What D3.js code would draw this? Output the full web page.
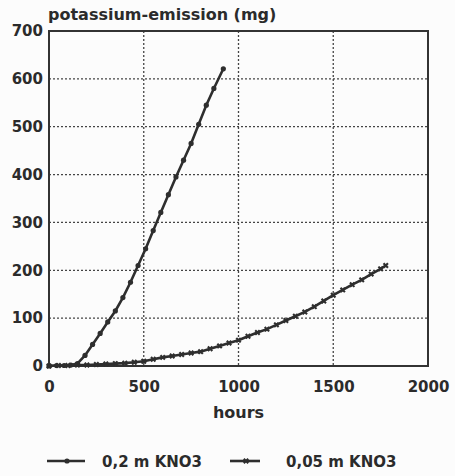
<!DOCTYPE html>
<html>
  <head>
    <meta charset="utf-8">
    <title>potassium emission</title>
    <script src="https://d3js.org/d3.v7.min.js"></script>
    <style>
      html, body { margin: 0; padding: 0; background: #fcfcfc; overflow: hidden; }
      svg { display: block; }
      text { font-family: "DejaVu Sans", sans-serif; font-weight: bold; fill: #2b2b2b; }
      .grid line { stroke: #444; stroke-width: 1.3px; stroke-dasharray: 2,2; }
      .axis path, .axis line { display: none; }
    </style>
  </head>
  <body>
    <script>

      // 0,2 m KNO3 : hours / mg
      var hours02 = [0, 40, 80, 115, 150, 190, 230, 270, 310, 350, 390, 430, 470, 510, 550, 590, 630, 670, 710, 750, 790, 830, 870, 920];
      var kalium02 = [0, 1, 1, 2, 5, 22, 45, 68, 92, 115, 143, 175, 210, 245, 283, 321, 358, 395, 430, 465, 505, 545, 580, 621];

      // 0,05 m KNO3 : hours / mg
      var hours005 = [0, 50, 100, 150, 200, 250, 300, 350, 400, 450, 500, 550, 600, 650, 700, 750, 800, 850, 900, 950,
                      1000, 1050, 1100, 1150, 1200, 1250, 1300, 1350, 1400, 1450, 1500, 1550, 1600, 1650, 1700, 1750, 1777];
      var kalium005 = [0, 1, 1, 2, 2, 3, 4, 5, 6, 8, 10, 14, 18, 21, 24, 27, 30, 36, 42, 48,
                       54, 62, 70, 77, 86, 95, 104, 113, 124, 136, 148, 159, 170, 180, 192, 203, 210];

      var xTicks = [0, 500, 1000, 1500, 2000];
      var yTicks = [0, 100, 200, 300, 400, 500, 600, 700];
      var seriesNames = ["0,2 m KNO3", "0,05 m KNO3"];

      var outerWidth = 455;
      var outerHeight = 476;
      var margin = { left: 49, top: 31, right: 27, bottom: 110 };
      var innerWidth = outerWidth - margin.left - margin.right;
      var innerHeight = outerHeight - margin.top - margin.bottom;

      var svg = d3.select("body").append("svg")
        .attr("width", outerWidth)
        .attr("height", outerHeight);

      var g = svg.append("g")
        .attr("transform", "translate(" + margin.left + "," + margin.top + ")");

      var xScale = d3.scaleLinear().domain([0, 2000]).range([0, innerWidth]);
      var yScale = d3.scaleLinear().domain([0, 700]).range([innerHeight, 0]);

      // dotted grid
      g.append("g").attr("class", "grid")
        .selectAll("line").data(yTicks.slice(1, -1)).enter().append("line")
        .attr("x1", 0).attr("x2", innerWidth)
        .attr("y1", function (d){ return yScale(d); })
        .attr("y2", function (d){ return yScale(d); });
      g.append("g").attr("class", "grid")
        .selectAll("line").data(xTicks.slice(1, -1)).enter().append("line")
        .attr("y1", 0).attr("y2", innerHeight)
        .attr("x1", function (d){ return xScale(d); })
        .attr("x2", function (d){ return xScale(d); });

      // frame
      g.append("rect")
        .attr("width", innerWidth).attr("height", innerHeight)
        .attr("fill", "none").attr("stroke", "#333").attr("stroke-width", 2);

      g.append("g").attr("class", "axis")
        .attr("transform", "translate(0," + innerHeight + ")")
        .call(d3.axisBottom(xScale).tickValues(xTicks).tickSize(0).tickPadding(15).tickFormat(d3.format("d")))
        .attr("font-size", 15).attr("font-family", "DejaVu Sans");

      g.append("g").attr("class", "axis")
        .call(d3.axisLeft(yScale).tickValues(yTicks).tickSize(0).tickPadding(6).tickFormat(d3.format("d")))
        .attr("font-size", 15).attr("font-family", "DejaVu Sans");

      svg.append("text")
        .attr("x", margin.left - 1).attr("y", 20)
        .attr("font-size", 16)
        .text("potassium-emission (mg)");

      svg.append("text")
        .attr("x", margin.left + innerWidth / 2) .attr("y", 418)
        .attr("text-anchor", "middle")
        .attr("font-size", 16)
        .text("hours");

      var line = d3.line()
        .x(function (d){ return xScale(d[0]); })
        .y(function (d){ return yScale(d[1]); });

      var data02 = hours02.map(function (h, i){ return [h, kalium02[i]]; });
      var data005 = hours005.map(function (h, i){ return [h, kalium005[i]]; });

      var stroke = "#2e2e2e";

      g.append("path").datum(data02)
        .attr("d", line).attr("fill", "none")
        .attr("stroke", stroke).attr("stroke-width", 2.6);
      g.selectAll(".m02").data(data02).enter().append("circle")
        .attr("class", "m02")
        .attr("cx", function (d){ return xScale(d[0]); })
        .attr("cy", function (d){ return yScale(d[1]); })
        .attr("r", 2.6).attr("fill", stroke);

      g.append("path").datum(data005)
        .attr("d", line).attr("fill", "none")
        .attr("stroke", stroke).attr("stroke-width", 2.6);
      var cross = d3.symbol().type(d3.symbolCross).size(22);
      g.selectAll(".m005").data(data005).enter().append("path")
        .attr("class", "m005")
        .attr("transform", function (d){ return "translate(" + xScale(d[0]) + "," + yScale(d[1]) + ") rotate(45)"; })
        .attr("d", cross).attr("fill", stroke);

      // legend
      var legendX = [47, 230];
      var legendLen = [38, 30];
      var legend = svg.selectAll(".legend").data(seriesNames).enter().append("g")
        .attr("class", "legend")
        .attr("transform", function (d, i){ return "translate(" + legendX[i] + ",461)"; });
      legend.append("line")
        .attr("x1", 0).attr("x2", function (d, i){ return legendLen[i]; })
        .attr("y1", 0).attr("y2", 0)
        .attr("stroke", stroke).attr("stroke-width", 2.6);
      legend.filter(function (d, i){ return i === 0; }).append("circle")
        .attr("cx", 20).attr("cy", 0).attr("r", 2.6).attr("fill", stroke);
      legend.filter(function (d, i){ return i === 1; }).append("path")
        .attr("transform", "translate(16,0) rotate(45)")
        .attr("d", cross).attr("fill", stroke);
      legend.append("text")
        .attr("x", function (d, i){ return i === 0 ? 55 : 56; })
        .attr("y", 6)
        .attr("font-size", 15)
        .text(function (d){ return d; });

    </script>
  </body>
</html>
